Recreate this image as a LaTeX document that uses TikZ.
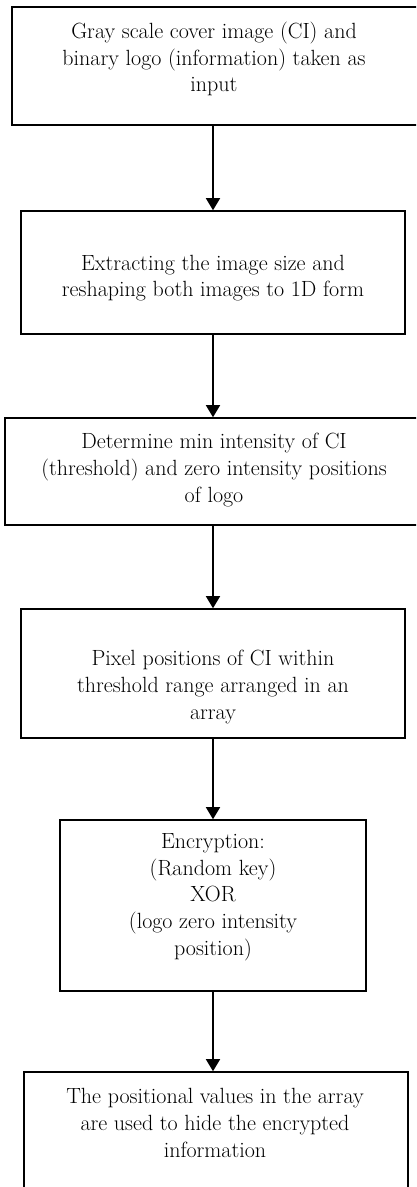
\documentclass[tikz,border=0pt]{standalone}
\usetikzlibrary{arrows.meta}
\tikzset{
  box/.style={draw, rectangle, line width=1.6pt, inner sep=0pt},
  txt/.style={align=center, inner sep=0pt, font=\fontsize{22}{26.7}\selectfont},
  flow/.style={line width=1.5pt, -{Triangle[width=14pt,length=12pt]}}
}
\begin{document}
\begin{tikzpicture}[x=1pt, y=-1pt]
  \useasboundingbox (0,0) rectangle (416,1187);
  \clip (0,0) rectangle (416,1187);
  % boxes
  \node[box, minimum width=410pt, minimum height=118pt] (input) at (217,66) {};
  \node[box, minimum width=384pt, minimum height=123pt] (reshape) at (213,272.5) {};
  \node[box, minimum width=424pt, minimum height=107pt] (thresh) at (217,471.5) {};
  \node[box, minimum width=384pt, minimum height=129pt] (pixpos) at (213,673.5) {};
  \node[box, minimum width=306pt, minimum height=171pt] (encrypt) at (213,905.5) {};
  \node[box, minimum width=384pt, minimum height=140pt] (hide) at (216,1142) {};
  % texts
  \node[txt] (input-t) at (214,59) {Gray scale cover image (CI) and\\binary logo (information) taken as\\input};
  \node[txt] (reshape-t) at (213,278) {Extracting the image size and\\reshaping both images to 1D form};
  \node[txt] (thresh-t) at (214,470) {Determine min intensity of CI\\(threshold) and zero intensity positions\\of logo};
  \node[txt] (pixpos-t) at (213,687) {Pixel positions of CI within\\threshold range arranged in an\\array};
  \node[txt] (encrypt-t) at (213,897) {Encryption:\\(Random key)\\XOR\\(logo zero intensity\\position)};
  \node[txt] (hide-t) at (215,1123) {The positional values in the array\\are used to hide the encrypted\\information};
  % arrows
  \draw[flow] (reshape.north |- input.south) -- (reshape.north);
  \draw[flow] (reshape.south) -- (reshape.south |- thresh.north);
  \draw[flow] (pixpos.north |- thresh.south) -- (pixpos.north);
  \draw[flow] (pixpos.south) -- (pixpos.south |- encrypt.north);
  \draw[flow] (encrypt.south) -- (encrypt.south |- hide.north);
\end{tikzpicture}
\end{document}
